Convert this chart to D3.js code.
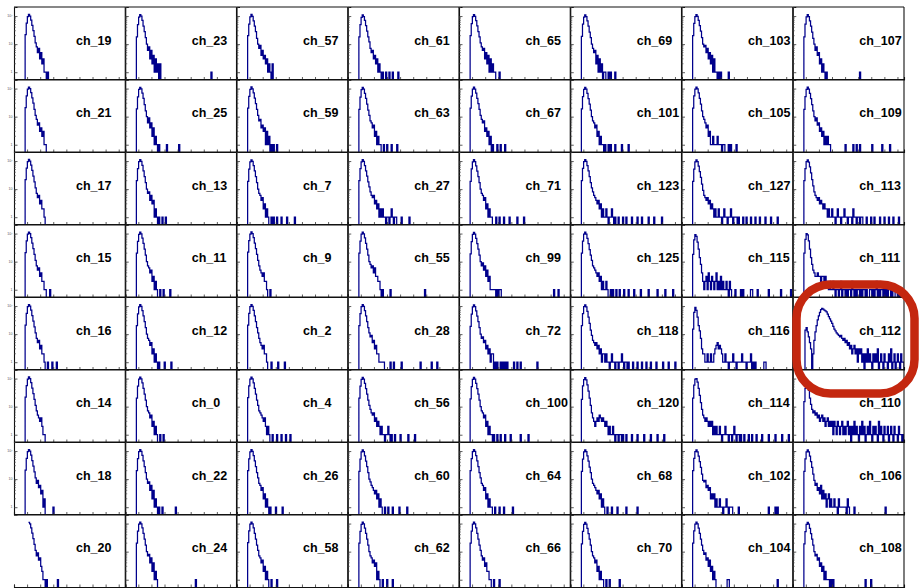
<!DOCTYPE html>
<html>
<head>
<meta charset="utf-8">
<script src="https://cdn.jsdelivr.net/npm/d3@7"></script>
<style>
  body { margin: 0; background: #fff; }
  svg { display: block; }
</style>
</head>
<body>
<svg></svg>
<script>
// channel labels, row by row (8 x 8 pads)
const channels = [
  19, 23, 57, 61, 65, 69, 103, 107,
  21, 25, 59, 63, 67, 101, 105, 109,
  17, 13, 7, 27, 71, 123, 127, 113,
  15, 11, 9, 55, 99, 125, 115, 111,
  16, 12, 2, 28, 72, 118, 116, 112,
  14, 0, 4, 56, 100, 120, 114, 110,
  18, 22, 26, 60, 64, 68, 102, 106,
  20, 24, 58, 62, 66, 70, 104, 108
];

// bin contents starting at bin 9 (one array per pad, same order as channels)
const bodies = [
  [0,22,56,96,114,100,72,47,30,19,11,8,5,7,3,5,2,3,1,1,0,1],            // 19
  [0,18,50,92,112,100,70,44,28,17,10,6,8,3,6,2,4,1,3,1,2,0,1],         // 23
  [0,20,52,94,115,98,68,44,28,16,10,7,9,4,6,3,4,2,3,1,2,1,0,1],        // 57
  [0,18,50,90,110,96,70,46,29,18,12,7,5,6,3,4,2,3,1,2,1,0,1],          // 61
  [0,20,54,95,112,97,69,45,28,18,11,8,6,7,3,5,2,4,1,3,1,2,1,1],        // 65
  [0,19,52,92,110,95,67,44,27,17,10,7,5,6,2,4,1,3,1,2,0,1],            // 69
  [0,20,55,96,113,98,70,46,29,17,10,8,9,5,7,3,5,2,4,1,2,1],            // 103
  [0,18,52,94,112,96,68,44,27,16,10,6,8,4,5,2,3,1,2,1],                // 107

  [0,21,55,95,113,99,71,47,30,18,11,8,5,6,3,4,2,3,1,1],                // 21
  [0,19,51,93,111,97,69,45,27,16,10,6,9,4,6,2,4,1,2,1,0,1],            // 25
  [0,20,53,94,114,98,70,46,29,18,11,7,8,4,5,3,4,1,3,1,2,0,1],          // 59
  [0,18,50,91,110,95,68,45,28,17,11,7,6,4,5,2,3,1,2,1,1],              // 63
  [0,20,54,95,112,96,69,45,29,18,11,8,6,7,3,4,2,3,1,2,0,1],            // 67
  [0,19,52,93,111,96,68,44,28,17,10,7,6,4,5,2,3,1,2,1,1,0,1],          // 101
  [0,20,55,96,113,98,70,45,28,16,10,8,6,4,5,2,3,1,1,2,1,1,1,2,1,1,1,0,1], // 105
  [0,18,52,94,112,96,68,44,27,16,10,7,9,5,6,3,4,2,3,1,2,1,2,1,1],      // 109

  [0,22,56,96,114,100,72,47,29,18,11,7,5,6,3,4,2,2,1],                 // 17
  [0,20,54,95,112,98,70,45,28,17,10,7,8,4,6,3,4,1,2,1,0,1],            // 13
  [0,19,52,93,111,97,69,45,28,17,10,7,6,4,5,2,3,1,2,1],                // 7
  [0,20,54,94,112,97,69,45,29,18,12,8,6,5,6,3,4,2,3,1,2,1,2,1,1,0,1,1,0,1,2,1,0,1,1], // 27
  [0,19,53,94,112,96,68,44,28,17,10,7,6,4,5,2,3,1,2,1,1],              // 71
  [0,20,55,96,113,97,69,45,28,17,11,8,6,5,4,3,4,2,3,1,2,1,1,2,1,0,1,1,2,1], // 123
  [0,19,52,93,110,95,66,42,26,15,9,6,5,4,5,3,4,2,3,2,1,2,1,1,2,1,1,0,1,2,1,1,0,1,1,2,1,0,1,1,1,0,1], // 127
  [0,20,54,95,110,92,62,38,22,13,8,6,5,4,5,3,4,3,2,3,2,2,1,2,1,1,2,1,1,0,1,2,1,1,0,1,1,2,1,1,0,1,1,1,0,2,1,1,0,1,1,0,1,1], // 113

  [0,21,55,95,113,99,71,46,29,18,11,7,5,6,3,4,2,2,1,1],                // 15
  [0,20,53,94,112,97,69,45,28,17,10,7,6,4,5,2,3,1,2,1],                // 11
  [0,22,56,96,114,99,71,46,29,18,11,7,5,4,3,4,2,2,1],                  // 9
  [0,20,54,95,112,98,70,45,28,17,10,8,6,7,4,5,2,3,1,2],                // 55
  [0,19,52,93,111,96,68,44,28,17,10,7,9,5,7,3,5,2,3,1,1,0,1],          // 99
  [0,20,54,95,112,96,68,44,27,17,11,7,6,5,4,3,4,2,3,1,2,1,1,2,1],      // 125
  [0,18,60,92,80,50,28,14,8,4,2,1,2,3,1,4,2,1,3,2,1,2,4,1,2,1,3,1,2,1,1,2,1,0,2,1], // 115
  [0,20,62,100,90,55,28,14,8,5,4,3,3,4,3,3,2,3,3,2,3,2,2,1,2,1,1,2,1,0,1,1,0,1,2,0,1,1,0,1,0,1,1,0,2,1,0,1,0,1,1,0,1,0,1,1,0,1,0,0,1,1,0,1,0,1,2,0,1,0,1,1,0,1,0,1,0,1,1,0,1,0,0,1,1,0,1,0,1,1,0], // 111

  [0,21,55,95,113,99,71,46,29,18,11,7,5,6,3,4,2,2,1],                  // 16
  [0,20,53,94,112,97,69,45,28,17,10,7,6,4,5,2,3,1,2,1],                // 12
  [0,21,55,95,113,98,70,45,28,17,11,7,5,4,3,4,2,2,1],                  // 2
  [0,20,54,95,112,97,69,45,28,17,11,8,9,5,6,3,4,2,2,1,1,1,1,1],        // 28
  [0,19,52,93,111,96,68,44,28,17,10,7,8,5,6,3,4,2,3,1,2,1],            // 72
  [0,20,54,95,110,94,64,40,24,14,9,6,5,4,5,3,4,2,3,1,2,2,1,2,1,1,0,1,2,1,1,0,1,1,0,1,1,2,1,0,1,1,0,1], // 118
  [0,15,60,90,70,40,20,13,7,3,2,2,1,1,2,1,1,2,1,1,2,3,4,5,3,4,3,2,1,1,2,1,1,0,1,1,1,2,1,1,0,1,1,1,1,2,1,1,1,0,1,1,1,1,0,1], // 116
  [0,0,14,17,12,8,5,3,0,2,6,12,20,32,45,60,75,82,78,72,68,62,52,42,35,29,24,19,15,13,11,10,9,8,9,7,6,7,5,6,4,5,3,4,2,3,4,2,3,1,3,2,3,1,2,0,2,1,3,1,2,1,0,2,1,2,1,3,0,1,2,1,0,2,1,1,0,2,1,3,0,1,2,0,1,2,1,0,2,1,1], // 112

  [0,22,56,96,114,99,71,46,29,18,11,7,5,4,3,4,2,1,1],                  // 14
  [0,20,54,95,112,98,70,45,28,17,10,7,6,4,5,2,3,1,2,1],                // 0
  [0,21,55,95,113,98,70,45,28,17,11,7,6,5,4,3,4,2,1,2,1],              // 4
  [0,20,54,94,111,96,68,44,28,17,11,8,6,5,6,3,4,2,3,2,1,2,1,1,0,1,1,2,1,0,1], // 56
  [0,19,52,93,111,96,68,44,28,17,10,7,6,4,5,2,3,1,2,1,1,0,1],          // 100
  [0,18,55,92,108,90,60,36,20,11,6,4,3,2,3,4,3,5,4,3,4,3,2,3,2,1,2,1,1,2,1,0,1,1,0,1,1,0,1], // 120
  [0,20,58,95,100,75,45,25,14,8,5,4,3,4,3,2,3,2,3,1,2,1,2,1,1,2,1,0,1,1,2,1,1,0,1,1,0,1,2,1,0,1,1,0,1], // 114
  [0,15,45,72,62,38,20,12,8,6,7,5,6,4,5,3,4,5,3,4,2,3,4,2,3,2,3,1,3,2,1,3,2,1,2,3,1,2,1,2,3,1,2,0,2,1,3,1,2,1,0,2,1,3,1,2,0,1,2,1,3,1,0,2,1,2,1,0,3,1,2,1,0,2,1,1,2,0,1,2,1,0,2,1,1,0,2,1,1,0,1], // 110

  [0,21,55,95,113,99,71,46,29,18,11,7,9,5,6,3,4,1,2],                  // 18
  [0,20,54,95,112,98,70,45,28,17,10,7,8,4,6,2,4,1,2,1],                // 22
  [0,20,53,94,112,97,69,45,28,17,11,7,6,4,5,2,3,1,2,1],                // 26
  [0,19,52,93,111,96,68,44,28,17,10,8,6,5,4,3,4,2,3,1,2,1],            // 60
  [0,20,54,95,112,97,69,45,28,17,11,7,6,4,5,2,3,1,2,1,1],              // 64
  [0,19,52,93,111,96,68,44,27,17,10,7,6,5,4,3,4,2,3,1,2,1],            // 68
  [0,20,55,96,110,94,66,42,26,15,9,8,9,5,6,4,5,2,3,2,3,1,2,1,1,2,1,1,0,1,1,2,1,0,1,1], // 102
  [0,19,53,93,110,94,66,42,26,15,9,6,7,4,5,3,6,2,4,2,3,1,2,3,1,2,1,1,2,1,1,0,2,1,1,0,1,1,1,0,1,1], // 106

  [0,0,0,0,110,98,70,46,29,18,11,7,9,5,6,3,2,1,1,0,1],                 // 20
  [0,20,54,95,112,98,70,45,28,17,10,7,8,4,6,2,4,1,2,1],                // 24
  [0,21,55,95,113,98,70,45,28,17,11,7,6,4,5,2,3,1,2,1],                // 58
  [0,20,53,94,112,97,69,45,28,17,10,7,6,4,5,3,4,1,2,1],                // 62
  [0,20,54,95,112,98,70,45,28,17,11,7,5,6,3,4,2,2,1,1],                // 66
  [0,19,53,94,111,96,68,44,28,17,10,7,6,4,5,2,3,1,2,1,1],              // 70
  [0,20,55,96,112,97,69,45,28,17,11,8,9,5,6,3,5,2,3,1,2,1],            // 104
  [0,19,52,93,111,96,68,44,28,17,10,7,8,5,6,3,4,2,3,1,2,1,1]           // 108
];

// isolated single-count bins further out in the tail
const tails = [
  [], [31,77], [32], [34,37,40,45], [36], [31,34,36,40], [29,31,33,35,42], [30,60],
  [], [37,48], [33,36], [32,35,39,44], [34,37,41], [34,36,40,46,52], [38,42,44,49], [47,54,57,60,71,80,87],
  [], [33,36], [31,33,36,40,45,52], [48,55], [33,36,40,45,52,58], [40,43,47,50,55,60,64,70,75,82], [55,58,62,66,70,75,80,86], [66,70,73,78,82,86,90,95],
  [32], [31,34,40], [30], [24,25,27,29,31,38,69], [30,32,34,36,37,85,89], [36,38,41,44,48,52,57,63,70,78,85,92], [48,53,55,62,63,68,78,89,98], [],
  [30,34,38], [30,35,41], [31,37,43], [38,41,48,65,75,80], [30,32,34,37,39,41,43,49,52,55,70], [56,60,64,68,72,77,83,88,94], [62,66,74,75], [],
  [], [31,34], [32,36,40,44,48], [42,47,54,60], [34,37,41,46,55,62], [50,55,60,66,72,78,84], [56,60,63,67,72,78,84,90,96], [],
  [35], [30,33,45], [30,35,41], [33,36,40,46,53], [32,36,40,48], [33,37,42,50,60], [45,51,78,84,86], [44,49,55,83],
  [39], [63], [31,36], [31,35,40], [31,36], [32,35,44], [41,42,86], [32,34,36,65,70]
];

const bodyStart = 9;
const nBins = 100;
const xMax = 8.5;
const xTickValues = [0, 1, 2, 3, 4, 5, 6, 7, 8];
const yTickValues = [1, 10, 100];
const yTickLabels = ["1", "10", "10\u00b2"];
const yMinorTicks = [2, 3, 4, 5, 6, 7, 8, 9, 20, 30, 40, 50, 60, 70, 80, 90, 200];

const width = 920, height = 588;
const gridLeft = 14, gridTop = 7;
const padW = 111.25, padH = 72.5;
const binW = xMax / nBins;

const svg = d3.select("svg")
  .attr("width", width)
  .attr("height", height);

const defs = svg.append("defs");

channels.forEach((ch, i) => {
  const row = Math.floor(i / 8), col = i % 8;
  const x0 = gridLeft + col * padW;
  const y0 = gridTop + row * padH;

  const xScale = d3.scaleLinear().domain([0, xMax]).range([x0, x0 + padW]);
  const yScale = d3.scaleLog().domain([0.55, 210]).range([y0 + padH, y0]);

  const counts = new Array(nBins).fill(0);
  bodies[i].forEach((v, k) => { if (bodyStart + k < nBins) counts[bodyStart + k] += v; });
  tails[i].forEach(b => { counts[b] += 1; });

  const g = svg.append("g").attr("class", "pad");

  defs.append("clipPath").attr("id", "clip" + i)
    .append("rect")
    .attr("x", x0).attr("y", y0)
    .attr("width", padW).attr("height", padH);

  // histogram outline
  const base = y0 + padH + 2;
  const first = counts.findIndex(v => v > 0);
  let last = nBins - 1;
  while (counts[last] === 0) last--;
  const pts = [];
  if (ch !== 20) pts.push([xScale(first * binW), base]);
  for (let k = first; k <= last; k++) {
    const yy = counts[k] > 0 ? yScale(counts[k]) : base;
    pts.push([xScale(k * binW), yy], [xScale((k + 1) * binW), yy]);
  }
  pts.push([xScale((last + 1) * binW), base]);

  g.append("path")
    .attr("clip-path", "url(#clip" + i + ")")
    .attr("d", d3.line()(pts))
    .attr("fill", "none")
    .attr("stroke", "#00008c")
    .attr("stroke-width", 1.25);

  // frame
  const frame = g.append("g").attr("stroke", "#111").attr("stroke-width", 1.1);
  frame.append("line").attr("x1", x0).attr("x2", x0 + padW).attr("y1", y0).attr("y2", y0);
  frame.append("line").attr("x1", x0 + padW).attr("x2", x0 + padW).attr("y1", y0).attr("y2", y0 + padH);

  // bottom axis (ticks pointing inward)
  const xAxis = d3.axisBottom(xScale).tickValues(xTickValues).tickSize(-2.5).tickFormat("");
  const gx = g.append("g").attr("transform", `translate(0,${y0 + padH})`).call(xAxis);
  gx.select(".domain").attr("stroke", "#111").attr("stroke-width", 1.1);
  gx.selectAll(".tick line").attr("stroke", "#333").attr("stroke-width", 0.8);

  // left log axis (ticks pointing inward)
  if (ch !== 20) {
    const yAxis = d3.axisLeft(yScale).tickValues(yTickValues).tickSize(-3.5).tickFormat("");
    const gy = g.append("g").attr("transform", `translate(${x0},0)`).call(yAxis);
    gy.select(".domain").attr("stroke", "#111").attr("stroke-width", 1.1);
    gy.selectAll(".tick line").attr("stroke", "#333").attr("stroke-width", 0.8);
    g.append("g").selectAll("line").data(yMinorTicks).join("line")
      .attr("x1", x0).attr("x2", x0 + 2)
      .attr("y1", d => yScale(d)).attr("y2", d => yScale(d))
      .attr("stroke", "#444").attr("stroke-width", 0.6);

    if (col === 0) {
      g.append("g").selectAll("text").data(yTickValues).join("text")
        .attr("x", x0 - 1.5).attr("y", d => yScale(d) + 1.2)
        .attr("text-anchor", "end")
        .attr("font-family", "Liberation Sans, Arial, sans-serif")
        .attr("font-size", 3.6).attr("fill", "#555")
        .text((d, j) => yTickLabels[j]);
    }
  }

  // channel label
  const tx = col === 0 ? 76 : x0 + 66.5;
  g.append("text")
    .attr("x", tx).attr("y", y0 + 37.5)
    .attr("font-family", "Liberation Sans, Arial, Helvetica, sans-serif")
    .attr("font-weight", "bold")
    .attr("font-size", 12.5)
    .attr("fill", "#000")
    .text("ch_" + ch);
});

// red highlight around ch_112
svg.append("rect")
  .attr("x", 796.5).attr("y", 284.5)
  .attr("width", 118).attr("height", 109)
  .attr("rx", 34).attr("ry", 34)
  .attr("fill", "none")
  .attr("stroke", "#c4270f")
  .attr("stroke-width", 8.5);
</script>
</body>
</html>
